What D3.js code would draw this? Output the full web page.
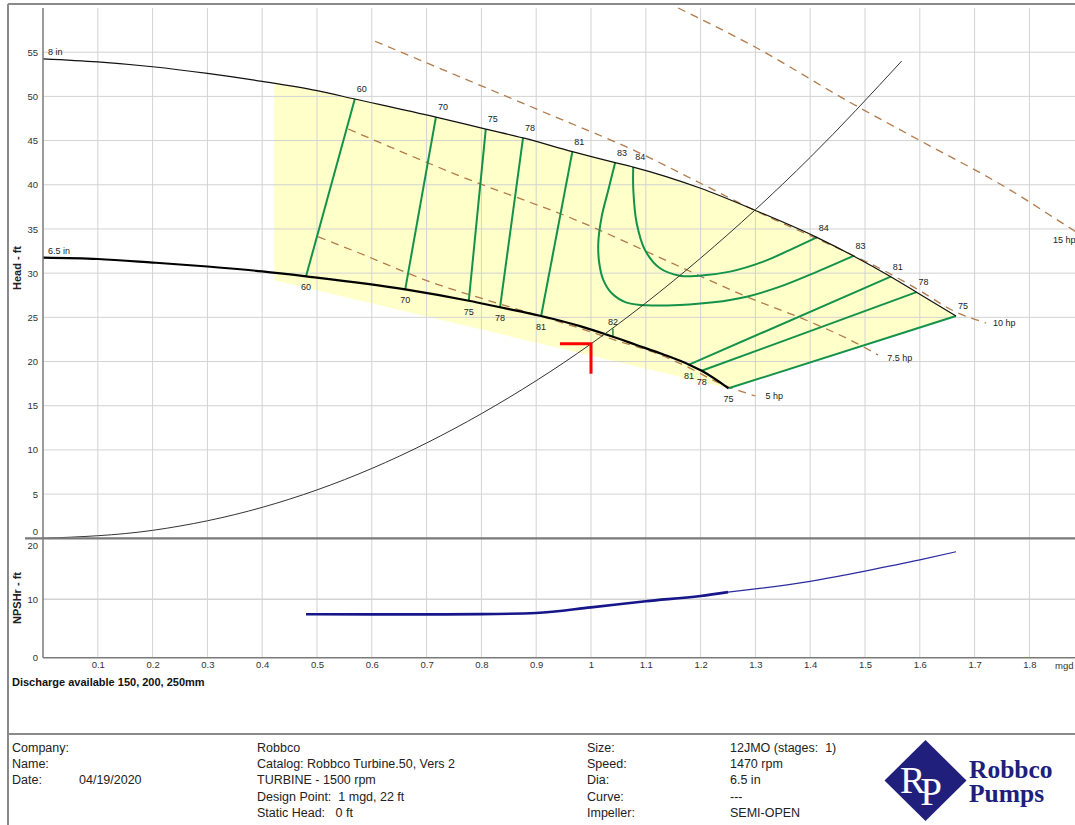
<!DOCTYPE html>
<html>
<head>
<meta charset="utf-8">
<script src="https://cdn.jsdelivr.net/npm/d3@7"></script>
<style>
  html, body { margin: 0; padding: 0; background: #fff; }
  svg { display: block; font-family: "Liberation Sans", Arial, sans-serif; }
</style>
</head>
<body>
<svg id="chart" width="1075" height="825"></svg>
<script>
// ---- Axis ticks ----
const flowTicks = [0.1, 0.2, 0.3, 0.4, 0.5, 0.6, 0.7, 0.8, 0.9, 1, 1.1, 1.2, 1.3, 1.4, 1.5, 1.6, 1.7, 1.8];
const flowGrid  = [0.1, 0.2, 0.3, 0.4, 0.5, 0.6, 0.7, 0.8, 0.9, 1, 1.1, 1.2, 1.3, 1.4, 1.5, 1.6, 1.7, 1.8, 1.9];
const headTicks = [0, 5, 10, 15, 20, 25, 30, 35, 40, 45, 50, 55];
const npshTicks = [0, 10, 20];

// ---- Impeller head curves [flow mgd, head ft] ----
const curve8in = [[0, 54.25], [0.1, 53.9], [0.2, 53.35], [0.3, 52.6], [0.4, 51.7], [0.5, 50.65],
  [0.569, 49.7], [0.717, 47.65], [0.808, 46.3], [0.876, 45.3], [0.966, 43.75], [1.044, 42.5],
  [1.077, 42.0], [1.2, 39.6], [1.298, 37.15], [1.412, 34.05], [1.479, 31.95], [1.547, 29.6],
  [1.594, 27.85], [1.666, 25.15]];
const curve65in = [[0, 31.75], [0.1, 31.6], [0.2, 31.2], [0.3, 30.75], [0.4, 30.2], [0.48, 29.64],
  [0.661, 28.17], [0.777, 26.88], [0.834, 26.14], [0.909, 25.15], [0.98, 24.0], [1.04, 22.8],
  [1.083, 21.87], [1.13, 20.85], [1.179, 19.65], [1.202, 18.95], [1.251, 16.97]];
const diameterNames = ["8 in", "6.5 in"];

// ---- Allowable operating region (left edge and lower corner) ----
const regionLeftFlow = 0.422;
const regionLowerLeft = [0.422, 29.19];

// ---- System curve (static head 0 ft) ----
const systemCurve = [[0, 0], [0.2, 0.9], [0.4, 3.5], [0.6, 7.9], [0.8, 14.1], [1.0, 22.0],
  [1.2, 31.7], [1.4, 43.1], [1.567, 54.0]];
const designPoint = [1, 22];

// ---- Efficiency lines (%) ----
const effLeftValues = [60, 70, 75, 78, 81];
const effLeftTop    = [[0.569, 49.7], [0.717, 47.65], [0.808, 46.3], [0.876, 45.3], [0.966, 43.75]];
const effLeftBottom = [[0.48, 29.64], [0.661, 28.17], [0.777, 26.88], [0.834, 26.14], [0.909, 25.15]];
const effRightValues = [81, 78, 75];
const effRightTop    = [[1.547, 29.6], [1.594, 27.85], [1.666, 25.15]];
const effRightBottom = [[1.179, 19.65], [1.202, 18.95], [1.251, 16.97]];
const eff82Tick = [[1.04, 22.8], [1.04, 23.75]];
const eff83Contour = [[1.044, 42.5], [1.0316, 39.41], [1.0195, 36.39], [1.0133, 33.38], [1.0151, 31.12],
  [1.0224, 29.23], [1.0378, 27.72], [1.065, 26.66], [1.1017, 26.36], [1.1624, 26.4], [1.2232, 26.7],
  [1.2841, 27.34], [1.3449, 28.47], [1.4057, 29.98], [1.479, 31.95]];
const eff84Contour = [[1.077, 42.0], [1.0772, 39.41], [1.0834, 35.64], [1.0985, 32.62], [1.1259, 30.55],
  [1.1624, 29.71], [1.1929, 29.68], [1.2536, 30.17], [1.3144, 31.3], [1.3692, 32.81], [1.412, 34.05]];

// ---- Power lines (hp) ----
const powerNames = ["15 hp", "10 hp", "7.5 hp", "5 hp"];
const power15 = [[1.159, 60.0], [1.296, 55.7], [1.478, 49.14], [1.595, 45.18], [1.759, 39.63], [1.874, 35.11], [1.92, 33.3]];
const power10 = [[0.606, 56.24], [0.71, 53.53], [0.907, 48.4], [1.089, 43.59], [1.199, 40.2], [1.297, 37.15],
  [1.381, 34.77], [1.473, 32.17], [1.522, 30.7], [1.595, 28.21], [1.664, 25.66], [1.721, 24.36]];
const power75 = [[0.557, 46.31], [0.761, 40.99], [0.98, 35.82], [1.162, 30.73], [1.284, 27.34],
  [1.406, 24.33], [1.485, 22.06], [1.524, 20.74]];
const power5 = [[0.502, 34.11], [0.578, 32.25], [0.706, 29.03], [0.81, 26.96], [0.907, 25.15],
  [0.98, 23.76], [1.053, 22.24], [1.113, 21.08], [1.175, 19.42], [1.235, 17.54], [1.3, 16.1]];

// ---- NPSH required [flow mgd, ft] ----
const npshCurve = [[0.48, 7.42], [0.6, 7.4], [0.7, 7.4], [0.8, 7.45], [0.9, 7.65], [1.0, 8.6],
  [1.1, 9.65], [1.2, 10.55], [1.25, 11.2], [1.3, 11.75], [1.4, 13.05], [1.5, 14.8], [1.6, 16.7], [1.666, 18.1]];
const npshSelectedMax = 1.25;

// ---- Footer text ----
const footerLabelsA = ["Company:", "Name:", "Date:"];
const footerValuesA = ["", "", "04/19/2020"];
const footerLinesB = ["Robbco", "Catalog: Robbco Turbine.50, Vers 2", "TURBINE - 1500 rpm",
  "Design Point:  1 mgd, 22 ft", "Static Head:   0 ft"];
const footerLabelsC = ["Size:", "Speed:", "Dia:", "Curve:", "Impeller:"];
const footerValuesC = ["12JMO (stages:  1)", "1470 rpm", "6.5 in", "---", "SEMI-OPEN"];

// ================= drawing =================
const W = 1075;
const svg = d3.select("#chart");

const x  = d3.scaleLinear().domain([0, 1.9]).range([43, 1084.2]);
const yH = d3.scaleLinear().domain([0, 60]).range([538.3, 8]);
const yN = d3.scaleLinear().domain([0, 20.4]).range([657.7, 538.3]);

const lineH = d3.line().x(d => x(d[0])).y(d => yH(d[1]));
const smoothH = d3.line().x(d => x(d[0])).y(d => yH(d[1])).curve(d3.curveMonotoneX);
const contourH = d3.line().x(d => x(d[0])).y(d => yH(d[1])).curve(d3.curveCatmullRom.alpha(0.5));

const textColor = "#222";
const green = "#14924a";
const brown = "#b27b4b";

// operating region fill, clipped to the region outline
const clip = [[regionLeftFlow, 60], [curve8in[curve8in.length - 1][0], 60],
  curve8in[curve8in.length - 1], curve65in[curve65in.length - 1], regionLowerLeft];
svg.append("clipPath").attr("id", "regionClip")
  .append("path").attr("d", lineH(clip) + "Z");
svg.append("path")
  .attr("clip-path", "url(#regionClip)")
  .attr("fill", "#ffffca")
  .attr("d", d3.area().x(d => x(d[0])).y0(yH(0)).y1(d => yH(d[1])).curve(d3.curveMonotoneX)(curve8in));

// grid
const grid = svg.append("g").attr("stroke", "#d3d3d3").attr("stroke-width", 1).attr("fill", "none");
flowGrid.forEach(q => grid.append("line")
  .attr("x1", x(q)).attr("x2", x(q)).attr("y1", yH.range()[1]).attr("y2", yN(0)));
headTicks.filter(h => h > 0).forEach(h => grid.append("line")
  .attr("x1", x(0)).attr("x2", W).attr("y1", yH(h)).attr("y2", yH(h)));
npshTicks.filter(n => n > 0 && n < 20).forEach(n => grid.append("line")
  .attr("x1", x(0)).attr("x2", W).attr("y1", yN(n)).attr("y2", yN(n)).attr("stroke-width", 1.5));

// power lines
const powerSets = [power15, power10, power75, power5];
const powerLabelOffset = [[-17, 12], [7, 0], [9, 3], [10, 0]];
const pg = svg.append("g");
powerSets.forEach((pts, i) => {
  pg.append("path").attr("d", smoothH(pts)).attr("fill", "none")
    .attr("stroke", brown).attr("stroke-width", 1.3).attr("stroke-dasharray", "8,6");
  const end = i === 0 ? pts[pts.length - 2] : pts[pts.length - 1];
  pg.append("text").attr("x", x(end[0]) + powerLabelOffset[i][0]).attr("y", yH(end[1]) + powerLabelOffset[i][1])
    .attr("dy", "0.35em").attr("font-size", 9).attr("fill", textColor).text(powerNames[i]);
});

// efficiency lines
const eg = svg.append("g").attr("fill", "none").attr("stroke", green).attr("stroke-width", 2);
effLeftValues.forEach((v, i) => eg.append("path").attr("d", lineH([effLeftTop[i], effLeftBottom[i]])));
effRightValues.forEach((v, i) => eg.append("path").attr("d", lineH([effRightTop[i], effRightBottom[i]])));
eg.append("path").attr("d", lineH(eff82Tick)).attr("stroke-width", 1.5);
eg.append("path").attr("d", contourH(eff83Contour));
eg.append("path").attr("d", contourH(eff84Contour));

// head curves
svg.append("path").attr("d", smoothH(curve8in)).attr("fill", "none").attr("stroke", "#111").attr("stroke-width", 1.2);
svg.append("path").attr("d", smoothH(curve65in)).attr("fill", "none").attr("stroke", "#000").attr("stroke-width", 2.2);
[curve8in, curve65in].forEach((c, i) => svg.append("text")
  .attr("x", x(c[0][0]) + 5).attr("y", yH(c[0][1]) - 4)
  .attr("font-size", 9).attr("fill", textColor).text(diameterNames[i]));

// system curve
svg.append("path").attr("d", smoothH(systemCurve)).attr("fill", "none").attr("stroke", "#333").attr("stroke-width", 1);

// design point marker
const dx = x(designPoint[0]), dy = yH(designPoint[1]);
svg.append("path").attr("d", `M${dx - 31},${dy}H${dx}V${dy + 30}`)
  .attr("fill", "none").attr("stroke", "#ff0000").attr("stroke-width", 3);

// efficiency labels
const lg = svg.append("g").attr("font-size", 9).attr("fill", textColor).attr("text-anchor", "middle");
function topLabel(p, v) {
  lg.append("text").attr("x", x(p[0]) + 7).attr("y", yH(p[1]) - 10).attr("dy", "0.35em").text(v);
}
function bottomLabel(p, v) {
  lg.append("text").attr("x", x(p[0])).attr("y", yH(p[1]) + 11).attr("dy", "0.35em").text(v);
}
effLeftValues.forEach((v, i) => { topLabel(effLeftTop[i], v); bottomLabel(effLeftBottom[i], v); });
effRightValues.forEach((v, i) => { topLabel(effRightTop[i], v); bottomLabel(effRightBottom[i], v); });
topLabel(eff83Contour[0], 83); topLabel(eff83Contour[eff83Contour.length - 1], 83);
topLabel(eff84Contour[0], 84); topLabel(eff84Contour[eff84Contour.length - 1], 84);
lg.append("text").attr("x", x(eff82Tick[1][0])).attr("y", yH(eff82Tick[1][1]) - 7).attr("dy", "0.35em").text(82);

// NPSH curve: heavy over the selected range, light beyond
const lineN = d3.line().x(d => x(d[0])).y(d => yN(d[1])).curve(d3.curveMonotoneX);
svg.append("path").attr("d", lineN(npshCurve.filter(d => d[0] >= npshSelectedMax - 1e-9)))
  .attr("fill", "none").attr("stroke", "#2b2ba0").attr("stroke-width", 1.2);
svg.append("path").attr("d", lineN(npshCurve.filter(d => d[0] <= npshSelectedMax + 1e-9)))
  .attr("fill", "none").attr("stroke", "#16168a").attr("stroke-width", 2.6);

// axes
const axisColor = "#7a7a7a";
const ah = svg.append("g").attr("transform", `translate(${x(0)},0)`)
  .call(d3.axisLeft(yH).tickValues(headTicks).tickSize(0).tickPadding(5));
const an = svg.append("g").attr("transform", `translate(${x(0)},0)`)
  .call(d3.axisLeft(yN).tickValues(npshTicks).tickSize(0).tickPadding(5));
const ax = svg.append("g").attr("transform", `translate(0,${yN(0)})`)
  .call(d3.axisBottom(x).tickValues(flowTicks).tickSize(0).tickPadding(4).tickFormat(d3.format("~g")));
[ah, an, ax].forEach(g => {
  g.select(".domain").remove();
  g.selectAll("text").attr("font-size", 9.5).attr("fill", "#333")
    .attr("font-family", "'Liberation Sans', Arial, sans-serif");
});
ah.selectAll(".tick").filter(d => d === 0).select("text").attr("dy", "-0.35em");
an.selectAll(".tick").filter(d => d === 20).select("text").attr("dy", "0.85em");

svg.append("line").attr("x1", x(0)).attr("x2", x(0)).attr("y1", yH.range()[1]).attr("y2", yN(0))
  .attr("stroke", axisColor).attr("stroke-width", 1.5);
svg.append("line").attr("x1", 25).attr("x2", W).attr("y1", yH(0)).attr("y2", yH(0))
  .attr("stroke", axisColor).attr("stroke-width", 2.2);
svg.append("line").attr("x1", x(0)).attr("x2", W).attr("y1", yN(0)).attr("y2", yN(0))
  .attr("stroke", axisColor).attr("stroke-width", 1.5);

svg.append("text").attr("x", 1055).attr("y", yN(0) + 11).attr("font-size", 9.5).attr("fill", "#333").text("mgd");

svg.append("text").attr("transform", "translate(21,268) rotate(-90)")
  .attr("text-anchor", "middle").attr("font-size", 11).attr("font-weight", "bold").attr("fill", textColor)
  .text("Head - ft");
svg.append("text").attr("transform", `translate(21,${(yN(0) + yN(20.4)) / 2}) rotate(-90)`)
  .attr("text-anchor", "middle").attr("font-size", 11).attr("font-weight", "bold").attr("fill", textColor)
  .text("NPSHr - ft");

svg.append("text").attr("x", 12).attr("y", 686).attr("font-size", 11).attr("font-weight", "bold")
  .attr("fill", "#111").text("Discharge available 150, 200, 250mm");

// page frame
const frame = svg.append("g").attr("stroke", "#8a8a8a").attr("stroke-width", 2).attr("fill", "none");
frame.append("line").attr("x1", 8).attr("x2", W).attr("y1", 4).attr("y2", 4);
frame.append("line").attr("x1", 8).attr("x2", 8).attr("y1", 4).attr("y2", 825);
frame.append("line").attr("x1", 8).attr("x2", W).attr("y1", 734).attr("y2", 734);

// footer
const rowY = [752, 768, 784, 801, 817];
const ft = svg.append("g").attr("font-size", 12.5).attr("fill", textColor);
footerLabelsA.forEach((t, i) => ft.append("text").attr("x", 12).attr("y", rowY[i]).text(t));
footerValuesA.forEach((t, i) => ft.append("text").attr("x", 79).attr("y", rowY[i]).text(t));
footerLinesB.forEach((t, i) => ft.append("text").attr("x", 257).attr("y", rowY[i]).attr("xml:space", "preserve").text(t));
footerLabelsC.forEach((t, i) => ft.append("text").attr("x", 587).attr("y", rowY[i]).text(t));
footerValuesC.forEach((t, i) => ft.append("text").attr("x", 730).attr("y", rowY[i]).attr("xml:space", "preserve").text(t));

// logo
const logo = svg.append("g").attr("font-family", "'Liberation Serif', serif");
const navy = "#20207c";
logo.append("path").attr("d", "M925.5,740L966.5,780.5L925.5,821L884.5,780.5Z").attr("fill", navy);
const mono = logo.append("text").attr("x", 900).attr("y", 793).attr("font-size", 38).attr("fill", "#fff");
mono.append("tspan").text("R");
mono.append("tspan").attr("dx", -5).attr("dy", 12).attr("font-size", 39).text("P");
const brand = logo.append("text").attr("x", 969).attr("y", 778)
  .attr("font-size", 25.5).attr("font-weight", "bold").attr("fill", navy);
brand.append("tspan").text("Robbco");
brand.append("tspan").attr("x", 969).attr("dy", 24).text("Pumps");
</script>
</body>
</html>
